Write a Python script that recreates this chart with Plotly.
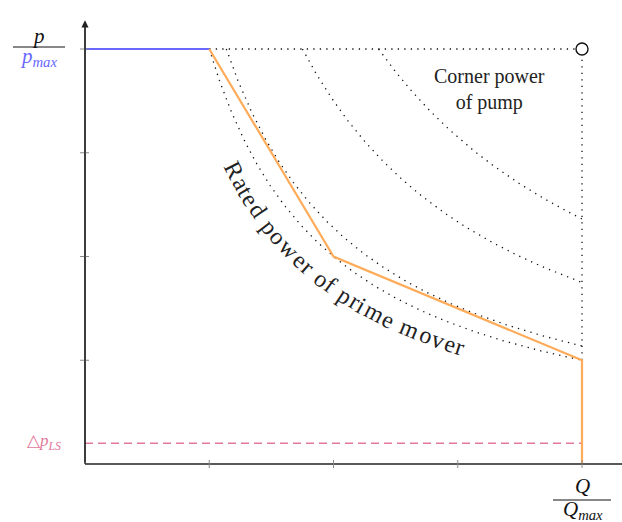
import math
import numpy as np
import plotly.graph_objects as go

# ---------------- data ----------------
x_ticks = [1, 2, 3, 4]
y_ticks = [1, 2, 3, 4]
blue_q = [0, 1]
blue_p = [4, 4]
orange_q = [1, 2, 4, 4]
orange_p = [4, 2, 1, 0]
ls_level = 0.2
power_levels = [4.0, 4.55, 7.0, 9.45]   # constant-power hyperbolas p*Q = c
corner_q = [1, 4, 4]
corner_p = [4, 4, 1]
corner_pt_q = [4]
corner_pt_p = [4]
text_power = 3.4

# ---------------- geometry ----------------
W, H = 622, 522
ML, MR, MT, MB = 85, 0, 10, 58
SX, SY = 124.25, 103.75   # px per unit
XMAX = (W - ML - MR) / SX
YMAX = (H - MT - MB) / SY

SERIF = "Liberation Serif, Times New Roman, serif"
BLUE = "#6868ff"
ORANGE = "#ffab5a"
PINK = "#e2789a"
DOT = dict(color="#111111", width=1.3, dash="1.3px,5.2px")


def dx(v):
    return v / XMAX


def dy(v):
    return v / YMAX


fig = go.Figure()

# dotted constant-power curves
for c in power_levels:
    q = np.linspace(c / 4.0, 4.0, 400)
    fig.add_trace(go.Scatter(x=q, y=c / q, mode="lines", line=DOT,
                             hoverinfo="skip", showlegend=False))

# corner power box
fig.add_trace(go.Scatter(x=corner_q, y=corner_p, mode="lines", line=DOT,
                         hoverinfo="skip", showlegend=False))

# pressure limit line
fig.add_trace(go.Scatter(x=[0, max(x_ticks)], y=[ls_level, ls_level], mode="lines",
                         line=dict(color=PINK, width=1.3, dash="8px,5px"),
                         showlegend=False))

# blue max pressure line
fig.add_trace(go.Scatter(x=blue_q, y=blue_p, mode="lines",
                         line=dict(color=BLUE, width=2.2), showlegend=False))

# orange characteristic
fig.add_trace(go.Scatter(x=orange_q, y=orange_p, mode="lines",
                         line=dict(color=ORANGE, width=2.2), showlegend=False))

# corner marker
fig.add_trace(go.Scatter(x=corner_pt_q, y=corner_pt_p, mode="markers",
                         marker=dict(symbol="circle", size=12, color="white",
                                     line=dict(color="#111111", width=1.4)),
                         showlegend=False, cliponaxis=False))

shapes = []
# axes
shapes.append(dict(type="line", xref="x domain", yref="y domain", x0=0, x1=1,
                   y0=0, y1=0, line=dict(color="#222222", width=1.3)))
shapes.append(dict(type="line", xref="x domain", yref="y domain", x0=0, x1=0,
                   y0=0, y1=dy(YMAX - 0.12), line=dict(color="#222222", width=1.3)))
# ticks crossing axes
for v in x_ticks:
    shapes.append(dict(type="line", xref="x domain", yref="y domain",
                       ysizemode="pixel", yanchor=0, y0=-4, y1=4,
                       x0=dx(v), x1=dx(v), line=dict(color="#8a8a8a", width=1)))
for v in y_ticks:
    shapes.append(dict(type="line", xref="x domain", yref="y domain",
                       xsizemode="pixel", xanchor=0, x0=-5, x1=4,
                       y0=dy(v), y1=dy(v), line=dict(color="#8a8a8a", width=1)))
# fraction bars
shapes.append(dict(type="line", xref="x domain", yref="y domain",
                   xsizemode="pixel", xanchor=0, ysizemode="pixel", yanchor=dy(4),
                   x0=-72, x1=-20, y0=2, y1=2, line=dict(color="#111111", width=1)))
shapes.append(dict(type="line", xref="x domain", yref="y domain",
                   xsizemode="pixel", xanchor=dx(4), ysizemode="pixel", yanchor=0,
                   x0=-29, x1=29, y0=-36, y1=-36, line=dict(color="#111111", width=1)))

ann = []
# y axis arrow
ann.append(dict(x=0, y=YMAX - 0.1, ax=0, ay=0, xref="x", yref="y",
                axref="x", ayref="y", text="", showarrow=True, arrowhead=2,
                arrowsize=1.1, arrowwidth=1.3, arrowcolor="#222222"))
# y label p / p_max
ann.append(dict(x=0, y=4, xref="x", yref="y", xshift=-47, yshift=13,
                text="<i>p</i>", showarrow=False,
                font=dict(family=SERIF, size=21, color="#111111")))
ann.append(dict(x=0, y=4, xref="x", yref="y", xshift=-47, yshift=-8,
                text="<i>p</i><sub><i>max</i></sub>", showarrow=False,
                font=dict(family=SERIF, size=21, color=BLUE)))
# delta p_LS
ann.append(dict(x=0, y=ls_level, xref="x", yref="y", xshift=-41, yshift=1,
                text="△<i>p</i><sub><i>LS</i></sub>", showarrow=False,
                font=dict(family=SERIF, size=17, color=PINK)))
# x label Q / Q_max
ann.append(dict(x=4, y=0, xref="x", yref="y", xshift=0, yshift=-22,
                text="<i>Q</i>", showarrow=False,
                font=dict(family=SERIF, size=21, color="#111111")))
ann.append(dict(x=4, y=0, xref="x", yref="y", xshift=1, yshift=-46,
                text="<i>Q</i><sub><i>max</i></sub>", showarrow=False,
                font=dict(family=SERIF, size=21, color="#111111")))
# corner power text
ann.append(dict(x=(489 - ML) / SX, y=(H - MB - 89) / SY, xref="x", yref="y",
                text="Corner power<br>of pump", showarrow=False,
                font=dict(family=SERIF, size=20, color="#222222")))

# curved text along p*Q = text_power
label = "Rated power of prime mover"
em = {"R": .667, "a": .444, "t": .278, "e": .444, "d": .5, " ": .25, "p": .5,
      "o": .5, "w": .722, "r": .333, "f": .333, "i": .278, "m": .778, "v": .5}
cum = []
acc = 0.0
for ch in label:
    w = em[ch]
    cum.append(acc + w / 2)
    acc += w
qs = np.linspace(0.8, 4.0, 4000)
ps = text_power / qs
X = qs * SX
Y = -ps * SY
seg = np.hypot(np.diff(X), np.diff(Y))
s = np.concatenate([[0], np.cumsum(seg)])
q_start, q_end = 1.2, 3.02
s0 = np.interp(q_start, qs, s)
s1 = np.interp(q_end, qs, s)
scale = (s1 - s0) / (cum[-1] - cum[0])
for ch, cpos in zip(label, cum):
    if ch == " ":
        continue
    si = s0 + (cpos - cum[0]) * scale
    qi = np.interp(si, s, qs)
    pi = text_power / qi
    slope = (text_power / qi ** 2) * SY / SX
    ang = math.degrees(math.atan(slope))
    ann.append(dict(x=qi, y=pi, xref="x", yref="y", text=ch, showarrow=False,
                    textangle=ang, xanchor="center", yanchor="middle",
                    font=dict(family=SERIF, size=24, color="#222222")))

fig.update_layout(
    width=W, height=H, margin=dict(l=ML, r=MR, t=MT, b=MB),
    paper_bgcolor="white", plot_bgcolor="white",
    xaxis=dict(range=[0, XMAX], showgrid=False, zeroline=False, showline=False,
               showticklabels=False, ticks="", fixedrange=True),
    yaxis=dict(range=[0, YMAX], showgrid=False, zeroline=False, showline=False,
               showticklabels=False, ticks="", fixedrange=True),
    shapes=shapes, annotations=ann, showlegend=False,
)

fig.write_html("out.html")
